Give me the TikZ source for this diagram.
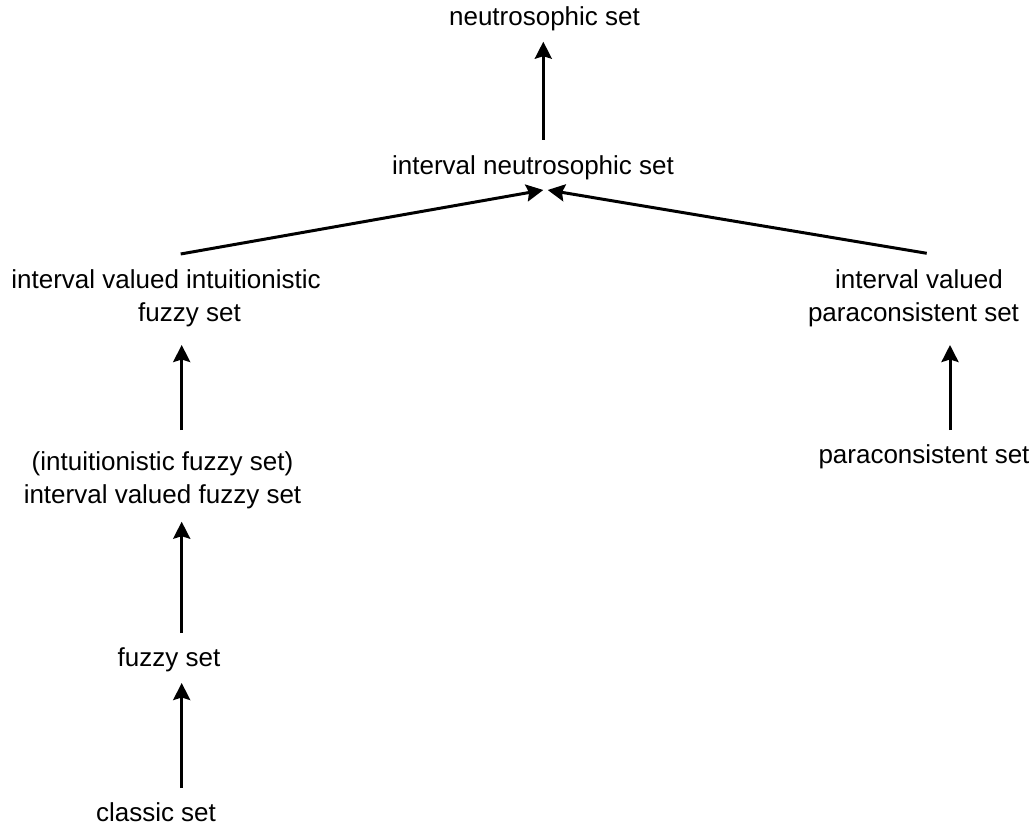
\documentclass[tikz,border=0pt]{standalone}
\usepackage{fontspec}
\setmainfont{Liberation Sans}
\usetikzlibrary{calc,arrows.meta}
\begin{document}
\begin{tikzpicture}[x=1pt,y=-1pt,
  lbl/.style={inner sep=0pt, anchor=base, align=center, font=\fontsize{26}{33.5}\selectfont},
  arr/.style={line width=3pt, -{Stealth[length=17pt,width=17pt,inset=2.5pt]}}]
\useasboundingbox (0,0) rectangle (1033,826);
\node[lbl] (neu) at (544.5,26) {neutrosophic set};
\node[lbl] (ineu) at (533,175) {interval neutrosophic set};
\node[lbl] (ivif) at (189.5,321.5) {interval valued intuitionistic\hspace*{47pt}\\fuzzy set};
\node[lbl] (ivfs) at (162.5,503.5) {(intuitionistic fuzzy set)\\interval valued fuzzy set};
\node[lbl] (fuz) at (169,666) {fuzzy set};
\node[lbl] (cls) at (156,821) {classic set};
\node[lbl] (ivp) at (913.5,321.5) {\hspace*{11pt}interval valued\\paraconsistent set};
\node[lbl] (par) at (924,463) {paraconsistent set};
\draw[arr] ($(cls.base)+(25.7,-33)$) -- ($(fuz.base)+(12.7,17)$);
\draw[arr] ($(fuz.base)+(12.7,-33)$) -- ($(ivfs.base)+(19.2,18.2)$);
\draw[arr] ($(ivfs.base)+(19.2,-73.5)$) -- ($(ivif.base)+(-7.8,23.5)$);
\draw[arr] ($(ivif.base)+(-8.8,-67.5)$) -- ($(ineu.base)+(10.3,15)$);
\draw[arr] ($(par.base)+(26,-33)$) -- ($(ivp.base)+(36.5,23.5)$);
\draw[arr] ($(ivp.base)+(13.2,-68.2)$) -- ($(ineu.base)+(14.7,15)$);
\draw[arr] ($(ineu.base)+(10.3,-35)$) -- ($(neu.base)+(-1.2,15.7)$);
\end{tikzpicture}
\end{document}
